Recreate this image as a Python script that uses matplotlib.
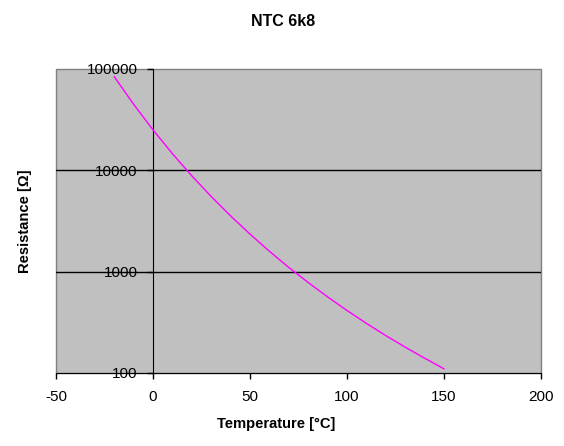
import matplotlib
matplotlib.use("Agg")
import matplotlib.pyplot as plt
from matplotlib.patches import Rectangle
from matplotlib.ticker import FixedLocator, FuncFormatter, NullLocator

# NTC 6k8 resistance curve
temperature = [-20, -10, 0, 10, 20, 30, 40, 50, 60, 70, 80,
               90, 100, 110, 120, 130, 140, 150]
resistance = [84000, 44900, 25100, 14600, 8830, 5520, 3550, 2350, 1590, 1100, 782,
              564, 414, 309, 234, 180, 140, 110]

x_ticks = [-50, 0, 50, 100, 150, 200]
y_ticks = [100, 1000, 10000, 100000]

plt.rcParams['font.family'] = ['Liberation Sans', 'DejaVu Sans']

fig = plt.figure(figsize=(5.64, 4.46), dpi=100)
ax = fig.add_axes([56 / 564, 73 / 446, 485 / 564, 304 / 446])
ax.set_facecolor('#C0C0C0')

ax.plot(temperature, resistance, color='#FF00FF', lw=1.0, zorder=3)

ax.set_yscale('log')
ax.set_xlim(-50, 200)
ax.set_ylim(100, 100000)

# horizontal gridlines (Excel style, black)
for v in y_ticks[1:3]:
    ax.axhline(v, color='black', lw=1.0, zorder=2)

# gray border of plot area
ax.add_patch(Rectangle((0, 0), 1, 1, transform=ax.transAxes, fill=False,
                       edgecolor='#808080', lw=1.0, zorder=1, clip_on=False))

ax.spines['left'].set_position(('data', 0))
ax.spines['left'].set_color('black')
ax.spines['left'].set_zorder(2)
ax.spines['bottom'].set_color('black')
ax.spines['top'].set_visible(False)
ax.spines['right'].set_visible(False)

ax.xaxis.set_major_locator(FixedLocator(x_ticks))
ax.yaxis.set_major_locator(FixedLocator(y_ticks))
ax.yaxis.set_minor_locator(NullLocator())
ax.yaxis.set_major_formatter(FuncFormatter(lambda v, p: '%d' % v))
ax.xaxis.set_major_formatter(FuncFormatter(lambda v, p: '%d' % v))

ax.tick_params(axis='x', direction='out', length=4, width=1, pad=8, labelsize=11)
ax.tick_params(axis='y', direction='out', length=4, width=1, pad=7, labelsize=11)

fig.text(283 / 564, 1 - 21 / 446, 'NTC 6k8', ha='center', va='center',
         fontsize=11.5, fontweight='bold')
fig.text(276 / 564, 1 - 424 / 446, 'Temperature [°C]', ha='center', va='center',
         fontsize=10.6, fontweight='bold')
fig.text(25 / 564, 1 - 221 / 446, 'Resistance [Ω]', ha='center', va='center',
         rotation=90, fontsize=10.6, fontweight='bold')

fig.savefig('out.png', dpi=100)
